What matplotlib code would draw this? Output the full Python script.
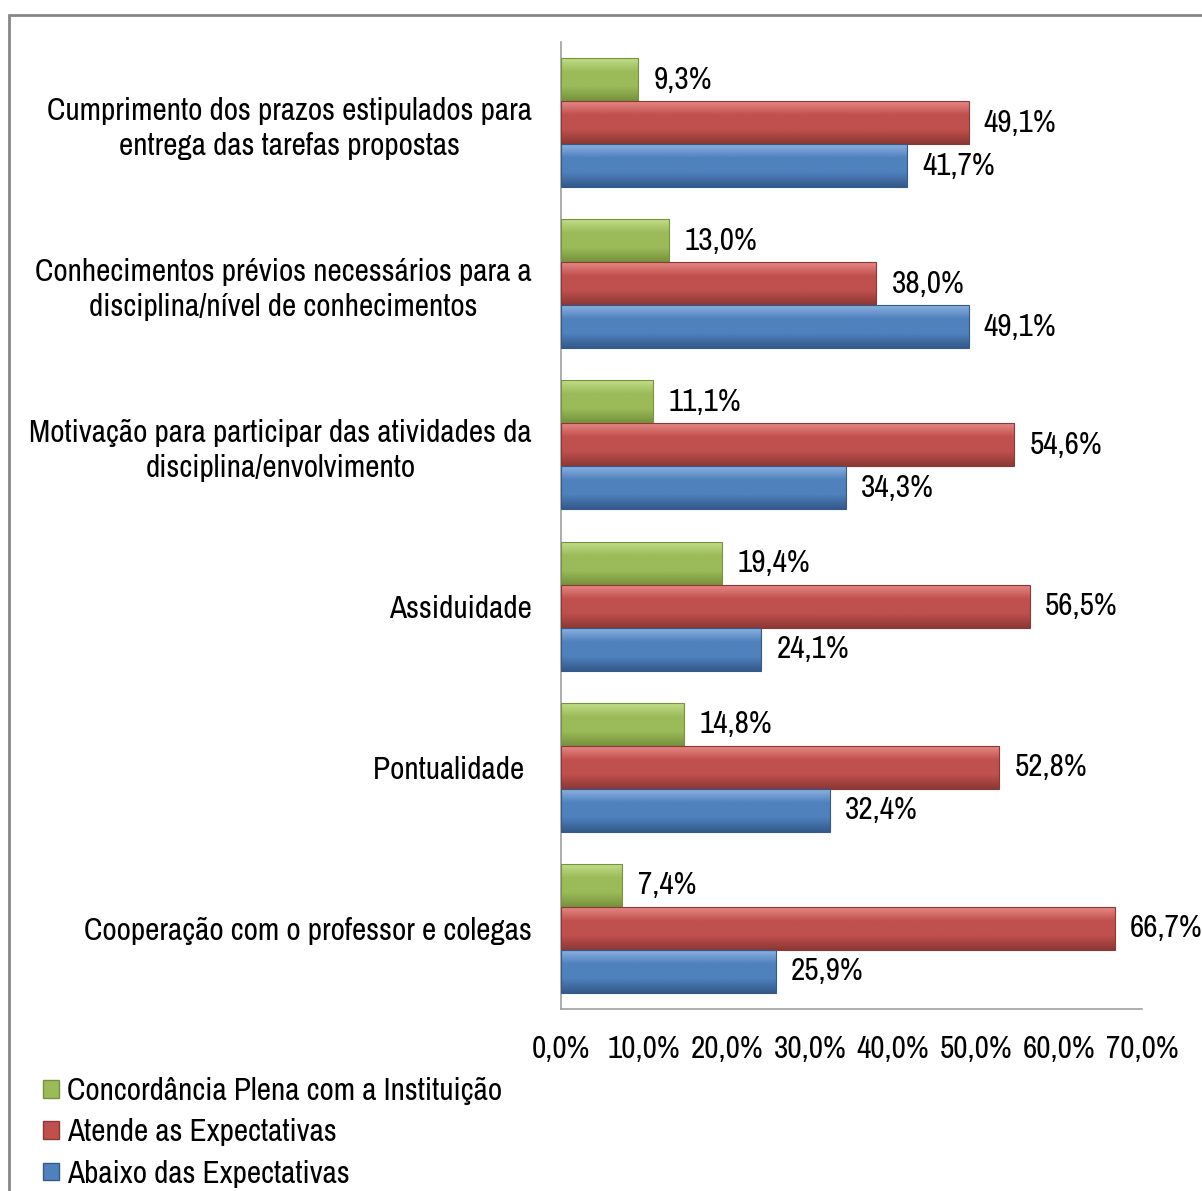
import numpy as np
import matplotlib.pyplot as plt
from matplotlib.patches import Rectangle
from matplotlib.colors import LinearSegmentedColormap
from matplotlib.font_manager import fontManager

# === data ===
categorias = [
    "Cooperação com o professor e colegas",
    "Pontualidade ",
    "Assiduidade",
    "Motivação para participar das atividades da\ndisciplina/envolvimento",
    "Conhecimentos prévios necessários para a\ndisciplina/nível de conhecimentos",
    "Cumprimento dos prazos estipulados para\nentrega das tarefas propostas",
]
concordancia = [7.4, 14.8, 19.4, 11.1, 13.0, 9.3]
atende = [66.7, 52.8, 56.5, 54.6, 38.0, 49.1]
abaixo = [25.9, 32.4, 24.1, 34.3, 49.1, 41.7]
series_nomes = ["Concordância Plena com a Instituição", "Atende as Expectativas", "Abaixo das Expectativas"]
xticks = [0, 10, 20, 30, 40, 50, 60, 70]

# narrow font (Arial Narrow look-alike) if installed
nomes = {f.name for f in fontManager.ttflist}
fam = "Archivo Narrow" if "Archivo Narrow" in nomes else "Liberation Sans"
plt.rcParams["font.family"] = [fam, "DejaVu Sans"]
FS = 22.5

cores = {
    "verde": ("#c4de8a", "#9bbb59", "#76923c"),
    "vermelho": ("#e98b88", "#c0504d", "#8c3836"),
    "azul": ("#8fb4e3", "#4f81bd", "#345a8a"),
}

fig = plt.figure(figsize=(12.02, 11.91), dpi=100)
ax = fig.add_axes([0.4667, 0.1528, 0.9501 - 0.4667, 0.9647 - 0.1528])

y = np.arange(len(categorias))
h = 0.267


def gradiente(barras, trio):
    cmap = LinearSegmentedColormap.from_list("g", [trio[2], trio[1], trio[1], trio[0]])
    grad = np.linspace(0, 1, 64).reshape(-1, 1)
    for b in barras:
        x0, y0 = b.get_x(), b.get_y()
        w, hh = b.get_width(), b.get_height()
        im = ax.imshow(grad, extent=[x0, x0 + w, y0, y0 + hh], origin="lower",
                       cmap=cmap, aspect="auto", zorder=3)
        im.set_clip_path(b)
        b.set_facecolor("none")
        b.set_edgecolor(trio[2])
        b.set_linewidth(0.8)
        b.set_zorder(4)


b_verde = ax.barh(y + h, concordancia, height=h, color=cores["verde"][1], label=series_nomes[0])
b_verm = ax.barh(y, atende, height=h, color=cores["vermelho"][1], label=series_nomes[1])
b_azul = ax.barh(y - h, abaixo, height=h, color=cores["azul"][1], label=series_nomes[2])

for barras, chave, vals, dy in [(b_verde, "verde", concordancia, h), (b_verm, "vermelho", atende, 0), (b_azul, "azul", abaixo, -h)]:
    gradiente(barras, cores[chave])
    for i, v in enumerate(vals):
        ax.annotate(f"{v:.1f}%".replace(".", ","), (v, y[i] + dy), xytext=(11, 0),
                    textcoords="offset points", va="center", ha="left", fontsize=FS)

ax.set_xlim(0, 70)
ax.set_ylim(-0.5, 5.5)
ax.set_xticks(xticks)
ax.set_xticklabels([f"{t:.1f}%".replace(".", ",") for t in xticks], fontsize=FS)
ax.set_yticks(y)
ax.set_yticklabels(categorias, fontsize=FS, ha="right")
for lab in ax.get_yticklabels():
    lab.set_multialignment("center")
    lab.set_linespacing(1.3)
ax.tick_params(axis="both", length=0)
ax.tick_params(axis="x", pad=19)
ax.tick_params(axis="y", pad=21)
for s in ["top", "right"]:
    ax.spines[s].set_visible(False)
for s in ["left", "bottom"]:
    ax.spines[s].set_color("#a0a0a0")
    ax.spines[s].set_linewidth(1.2)

# legend with small square markers
handles = [Rectangle((0, 0), 1, 1, facecolor=cores[k][1], edgecolor=cores[k][2]) for k in ["verde", "vermelho", "azul"]]
fig.legend(handles, series_nomes, loc="upper left", bbox_to_anchor=(0.036, 0.0955),
           frameon=False, fontsize=FS, handlelength=0.5, handleheight=0.5,
           handletextpad=0.25, labelspacing=0.42, borderaxespad=0, borderpad=0)

# outer chart border (cropped at right and bottom)
fig.patches.append(Rectangle((9 / 1202, -0.05), 1.2, 1 - 15 / 1191 + 0.05,
                             transform=fig.transFigure, fill=False,
                             edgecolor="#868686", linewidth=2))

fig.savefig("out.png", dpi=100)
